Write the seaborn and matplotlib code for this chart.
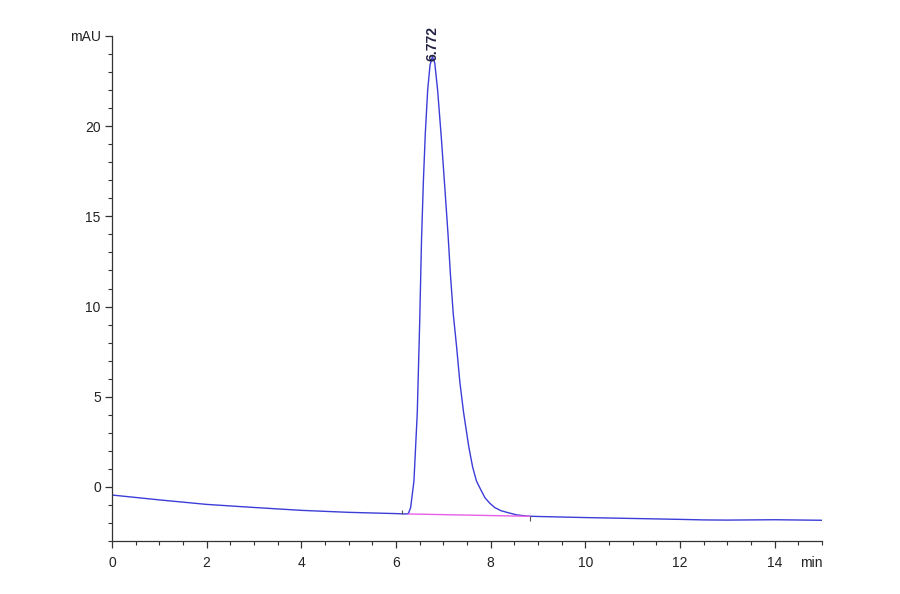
import pandas as pd
import seaborn as sns
import matplotlib.pyplot as plt
from matplotlib.ticker import MultipleLocator

# Chromatogram trace (min, mAU)
tempo = [0, 1, 2, 3, 4, 5, 6, 6.2, 6.26, 6.31, 6.38, 6.45, 6.50, 6.54, 6.58,
         6.62, 6.67, 6.72, 6.77, 6.82, 6.88, 6.96, 7.04, 7.10, 7.15, 7.21,
         7.28, 7.35, 7.43, 7.54, 7.62, 7.70, 7.80, 7.88, 7.98, 8.09, 8.22,
         8.37, 8.55, 8.78, 9.0, 10, 11, 12, 12.5, 13, 14, 15]
sinal = [-0.45, -0.72, -0.97, -1.14, -1.30, -1.41, -1.48, -1.50, -1.49, -1.15,
         0.33, 4.1, 9.0, 13.7, 17.0, 19.6, 22.0, 23.4, 23.85, 23.5, 22.0,
         19.3, 16.3, 14.0, 11.8, 9.6, 7.8, 5.8, 4.1, 2.2, 1.1, 0.33, -0.2,
         -0.6, -0.9, -1.15, -1.32, -1.43, -1.55, -1.62, -1.64, -1.70, -1.75,
         -1.80, -1.83, -1.84, -1.82, -1.85]

# Integration baseline and its start/end marks
base_t = [6.26, 8.83]
base_y = [-1.50, -1.63]
marca_t = [6.12, 8.83]
marca_y0 = [-1.27, -1.63]
marca_y1 = [-1.50, -1.90]

pico_t = 6.772
pico_y = 23.6
pico_label = '6.772'

df = pd.DataFrame({'min': tempo, 'mAU': sinal})

sns.set_style('white')
plt.rcParams['font.family'] = ['Liberation Sans', 'DejaVu Sans']

fig = plt.figure(figsize=(9, 5.94), dpi=100)
ax = fig.add_axes([0.1244, 0.0892, 0.7889, 0.8502])

sns.lineplot(data=df, x='min', y='mAU', ax=ax, color='#3c3cd8', linewidth=1.0)
ax.plot(base_t, base_y, color='#e860e8', linewidth=1.0)
ax.vlines(marca_t, marca_y0, marca_y1, color='#555555', linewidth=0.8)
ax.text(pico_t, pico_y, pico_label, rotation=90, ha='center', va='bottom',
        fontsize=10, color='#222244', fontweight='bold')

ax.set_xlim(0, 15)
ax.set_ylim(-3, 25)
ax.set_xticks([0, 2, 4, 6, 8, 10, 12, 14])
ax.set_yticks([0, 5, 10, 15, 20, 25])
ax.set_yticklabels(['0', '5', '10', '15', '20', 'mAU'])
ax.xaxis.set_minor_locator(MultipleLocator(0.5))
ax.yaxis.set_minor_locator(MultipleLocator(1))
# axis unit in place of the last x tick label
ax.text(15.02, -3.85, 'min', ha='right', va='top', fontsize=10, color='#222222')

ax.set_xlabel('')
ax.set_ylabel('')
for s in ['top', 'right']:
    ax.spines[s].set_visible(False)
for s in ['left', 'bottom']:
    ax.spines[s].set_color('#333333')
    ax.spines[s].set_linewidth(0.9)

ax.tick_params(which='major', direction='out', length=5, width=0.9,
               color='#333333', labelsize=10, labelcolor='#222222')
ax.tick_params(axis='x', which='major', pad=6)
ax.tick_params(axis='y', which='major', pad=3)
ax.tick_params(which='minor', direction='out', length=3, width=0.8,
               color='#333333')
ax.tick_params(axis='x', which='both', bottom=True)
ax.tick_params(axis='y', which='both', left=True)

fig.savefig('out.png', dpi=100)
